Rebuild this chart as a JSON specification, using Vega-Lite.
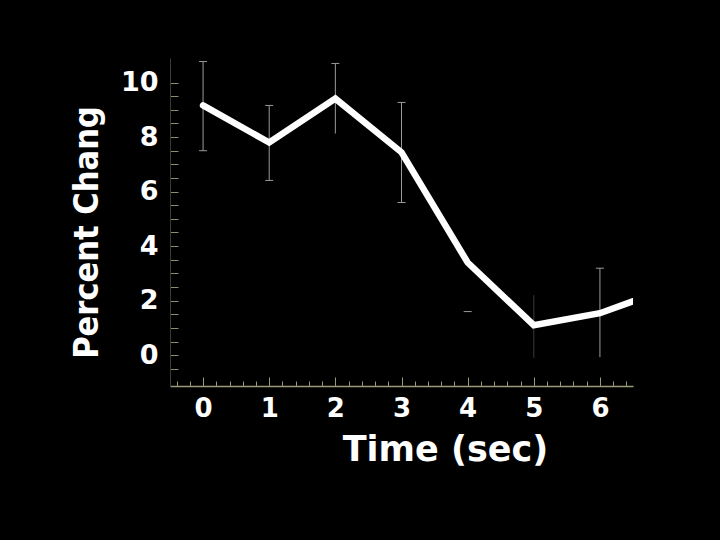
{
  "$schema": "https://vega.github.io/schema/vega-lite/v6.json",
  "width": 463,
  "height": 328,
  "autosize": "none",
  "padding": {"left": 170, "top": 58, "right": 87, "bottom": 154},
  "background": "#000000",
  "config": {"view": {"stroke": null}},
  "datasets": {
    "series": [
      {"t": 0, "mean": 9.16, "lo": 7.5, "hi": 10.77, "kind": "solid"},
      {"t": 1, "mean": 7.8, "lo": 6.41, "hi": 9.16, "kind": "solid"},
      {"t": 2, "mean": 9.41, "lo": 8.13, "hi": 10.7, "kind": "solid"},
      {"t": 3, "mean": 7.44, "lo": 5.6, "hi": 9.27, "kind": "solid"},
      {"t": 4, "mean": 3.4, "lo": null, "hi": null, "kind": "solid"},
      {"t": 5, "mean": 1.1, "lo": -0.1, "hi": 2.2, "kind": "faint"},
      {"t": 6, "mean": 1.54, "lo": -0.07, "hi": 3.19, "kind": "solid"},
      {"t": 7, "mean": 2.42, "lo": null, "hi": null, "kind": "solid"}
    ],
    "caps": [
      {"t": 0, "v": 10.77}, {"t": 0, "v": 7.5},
      {"t": 1, "v": 9.16}, {"t": 1, "v": 6.41},
      {"t": 2, "v": 10.7},
      {"t": 3, "v": 9.27}, {"t": 3, "v": 5.6},
      {"t": 4, "v": 1.6},
      {"t": 6, "v": 3.19}
    ]
  },
  "layer": [
    {
      "data": {"name": "series"},
      "mark": {"type": "rule", "strokeWidth": 1},
      "encoding": {
        "x": {
          "field": "t", "type": "quantitative",
          "scale": {"domain": [-0.5, 6.5], "nice": false, "zero": false},
          "axis": {
            "orient": "bottom", "title": "Time (sec)", "grid": false,
            "tickCount": 200,
            "values": [-0.4,-0.2,0,0.2,0.4,0.6,0.8,1,1.2,1.4,1.6,1.8,2,2.2,2.4,2.6,2.8,3,3.2,3.4,3.6,3.8,4,4.2,4.4,4.6,4.8,5,5.2,5.4,5.6,5.8,6,6.2,6.4],
            "labelExpr": "abs(datum.value - round(datum.value)) < 0.001 ? format(datum.value, 'd') : ''",
            "labelOverlap": false, "labelFlush": false,
            "domain": true, "domainColor": "#9a9a78", "domainWidth": 1.5,
            "tickSize": {"condition": {"test": "abs(datum.value - round(datum.value)) < 0.001", "value": -9}, "value": -5},
            "tickColor": "#9a9a78", "tickWidth": 1,
            "labelFont": "DejaVu Sans", "labelFontWeight": "bold", "labelFontSize": 26, "labelColor": "#ffffff",
            "labelPadding": 18,
            "titleFont": "DejaVu Sans", "titleFontWeight": "bold", "titleFontSize": 35, "titleColor": "#ffffff",
            "titleX": 275, "titleY": 74, "titleAlign": "center", "titleBaseline": "alphabetic"
          }
        },
        "y": {
          "field": "lo", "type": "quantitative",
          "scale": {"domain": [-1.13, 10.9], "nice": false, "zero": false},
          "axis": {
            "orient": "left", "title": "Percent Chang", "grid": false,
            "tickCount": 200,
            "values": [-0.5,0,0.5,1,1.5,2,2.5,3,3.5,4,4.5,5,5.5,6,6.5,7,7.5,8,8.5,9,9.5,10],
            "labelExpr": "abs(datum.value/2 - round(datum.value/2)) < 0.001 ? format(datum.value, 'd') : ''",
            "labelOverlap": false, "labelFlush": false,
            "domain": true, "domainColor": "#3a3a3a", "domainWidth": 1,
            "tickSize": -8, "tickColor": "#8f8f70", "tickWidth": 1,
            "labelFont": "DejaVu Sans", "labelFontWeight": "bold", "labelFontSize": 27, "labelColor": "#ffffff",
            "labelPadding": 20,
            "titleFont": "'DejaVu Sans Condensed', 'Liberation Sans Narrow', 'Arial Narrow', Roboto, sans-serif", "titleFontWeight": "bold", "titleFontSize": 34, "titleColor": "#ffffff",
            "titleAngle": -90, "titleX": -73, "titleY": 174, "titleAlign": "center", "titleBaseline": "alphabetic"
          }
        },
        "y2": {"field": "hi"},
        "color": {
          "field": "kind", "type": "nominal",
          "scale": {"domain": ["solid", "faint"], "range": ["#9a9a9a", "#3a3a3a"]},
          "legend": null
        }
      }
    },
    {
      "data": {"name": "caps"},
      "mark": {"type": "tick", "orient": "horizontal", "size": 8, "thickness": 1, "color": "#9a9a9a", "opacity": 1},
      "encoding": {
        "x": {"field": "t", "type": "quantitative"},
        "y": {"field": "v", "type": "quantitative"}
      }
    },
    {
      "data": {"name": "series"},
      "mark": {"type": "line", "color": "#ffffff", "strokeWidth": 6.5, "clip": true, "strokeCap": "round"},
      "encoding": {
        "x": {"field": "t", "type": "quantitative"},
        "y": {"field": "mean", "type": "quantitative"}
      }
    }
  ]
}
